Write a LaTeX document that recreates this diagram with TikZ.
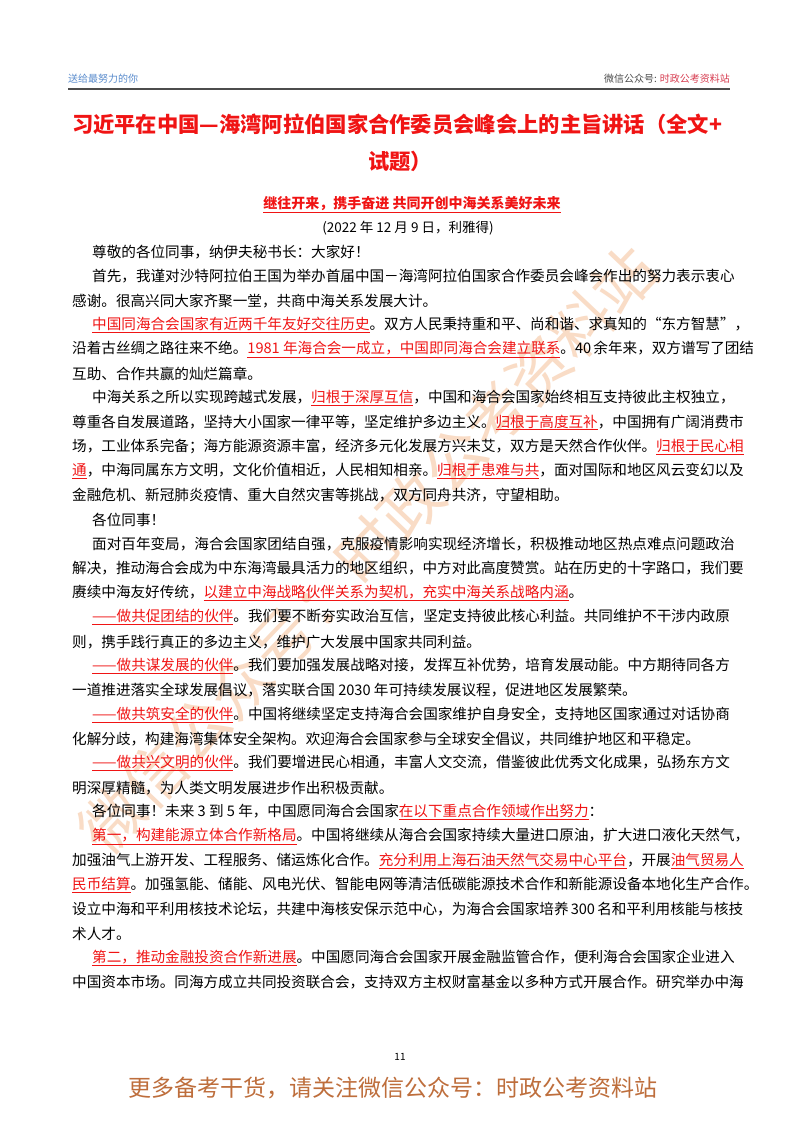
\documentclass[tikz,border=0pt]{standalone}
\usepackage{fontspec}
\setmainfont{Noto Sans CJK SC}
\XeTeXlinebreaklocale "zh"
\XeTeXlinebreakskip=1.5pt plus 4pt minus 1pt
\definecolor{wm}{RGB}{249,220,198}
\definecolor{foot}{RGB}{190,110,60}
\definecolor{hdrblue}{RGB}{90,140,205}
\definecolor{hdrred}{RGB}{215,60,80}
\definecolor{tred}{RGB}{240,20,20}
\newcommand\hl[1]{\textcolor{tred}{\underline{#1}}}
\newcommand\ypos[1]{\pgfmathsetmacro\yy{-(252+#1*24.35)}}
\newcommand\Fl[2]{\ypos{#1}\node[body] (l#1) at (72,\yy) {\hbox to 656pt{#2}};}
\newcommand\FI[2]{\ypos{#1}\node[body] (l#1) at (92,\yy) {\hbox to 636pt{#2}};}
\newcommand\Nl[2]{\ypos{#1}\node[body] (l#1) at (72,\yy) {#2};}
\newcommand\NI[2]{\ypos{#1}\node[body] (l#1) at (92,\yy) {#2};}
\begin{document}
\begin{tikzpicture}[x=1pt,y=1pt,
  body/.style={anchor=west,inner sep=0pt,font=\fontsize{14.6}{17}\selectfont}]
\useasboundingbox (0,0) rectangle (800,-1132);
\fill[white] (0,0) rectangle (800,-1132);
% watermark
\node[rotate=46.5,text=wm,font=\fontsize{62}{62}\selectfont] (wmk) at (368,-550) {微信公众号：时政公考资料站};
% header
\node[anchor=base west,inner sep=0,text=hdrblue,font=\fontsize{10}{12}\selectfont] (hl) at (68,-82) {送给最努力的你};
\node[anchor=base east,inner sep=0,font=\fontsize{10}{12}\selectfont] (hr) at (730,-82) {\textcolor{black!70}{微信公众号:} \textcolor{hdrred}{时政公考资料站}};
\draw[black!70,line width=1.5pt] (68,-89) -- (730,-89);
% title
\node[anchor=center,inner sep=0,text=tred,font=\fontsize{21.3}{26}\bfseries\selectfont] (t1) at (400,-124) {\hbox to 656pt{习近平在中国—海湾阿拉伯国家合作委员会峰会上的主旨讲话（全文+}};
\node[anchor=center,inner sep=0,text=tred,font=\fontsize{21.3}{26}\bfseries\selectfont] (t2) at (400,-161) {试题）};
\node[anchor=center,inner sep=0,font=\fontsize{14}{16}\bfseries\selectfont] (sub) at (412,-205) {\hl{继往开来，携手奋进 共同开创中海关系美好未来}};
\node[anchor=center,inner sep=0,font=\fontsize{13.5}{16}\selectfont] (date) at (408,-228) {(2022 年 12 月 9 日，利雅得)};
% body
\NI{0}{尊敬的各位同事，纳伊夫秘书长：大家好！}
\FI{1}{首先，我谨对沙特阿拉伯王国为举办首届中国－海湾阿拉伯国家合作委员会峰会作出的努力表示衷心}
\Nl{2}{感谢。很高兴同大家齐聚一堂，共商中海关系发展大计。}
\FI{3}{\hl{中国同海合会国家有近两千年友好交往历史}。双方人民秉持重和平、尚和谐、求真知的“东方智慧”，}
\Fl{4}{沿着古丝绸之路往来不绝。\hl{1981 年海合会一成立，中国即同海合会建立联系}。40 余年来，双方谱写了团结}
\Nl{5}{互助、合作共赢的灿烂篇章。}
\FI{6}{中海关系之所以实现跨越式发展，\hl{归根于深厚互信}，中国和海合会国家始终相互支持彼此主权独立，\hskip 0pt plus 1fil\relax}
\Fl{7}{尊重各自发展道路，坚持大小国家一律平等，坚定维护多边主义。\hl{归根于高度互补}，中国拥有广阔消费市}
\Fl{8}{场，工业体系完备；海方能源资源丰富，经济多元化发展方兴未艾，双方是天然合作伙伴。\hl{归根于民心相}}
\Fl{9}{\hl{通}，中海同属东方文明，文化价值相近，人民相知相亲。\hl{归根于患难与共}，面对国际和地区风云变幻以及}
\Nl{10}{金融危机、新冠肺炎疫情、重大自然灾害等挑战，双方同舟共济，守望相助。}
\NI{11}{各位同事！}
\FI{12}{面对百年变局，海合会国家团结自强，克服疫情影响实现经济增长，积极推动地区热点难点问题政治}
\Fl{13}{解决，推动海合会成为中东海湾最具活力的地区组织，中方对此高度赞赏。站在历史的十字路口，我们要}
\Nl{14}{赓续中海友好传统，\hl{以建立中海战略伙伴关系为契机，充实中海关系战略内涵}。}
\FI{15}{\hl{——做共促团结的伙伴}。我们要不断夯实政治互信，坚定支持彼此核心利益。共同维护不干涉内政原}
\Nl{16}{则，携手践行真正的多边主义，维护广大发展中国家共同利益。}
\FI{17}{\hl{——做共谋发展的伙伴}。我们要加强发展战略对接，发挥互补优势，培育发展动能。中方期待同各方}
\Nl{18}{一道推进落实全球发展倡议，落实联合国 2030 年可持续发展议程，促进地区发展繁荣。}
\FI{19}{\hl{——做共筑安全的伙伴}。中国将继续坚定支持海合会国家维护自身安全，支持地区国家通过对话协商}
\Nl{20}{化解分歧，构建海湾集体安全架构。欢迎海合会国家参与全球安全倡议，共同维护地区和平稳定。}
\FI{21}{\hl{——做共兴文明的伙伴}。我们要增进民心相通，丰富人文交流，借鉴彼此优秀文化成果，弘扬东方文}
\Nl{22}{明深厚精髓，为人类文明发展进步作出积极贡献。}
\NI{23}{各位同事！未来 3 到 5 年，中国愿同海合会国家\hl{在以下重点合作领域作出努力}：}
\FI{24}{\hl{第一，构建能源立体合作新格局}。中国将继续从海合会国家持续大量进口原油，扩大进口液化天然气，}
\Fl{25}{加强油气上游开发、工程服务、储运炼化合作。\hl{充分利用上海石油天然气交易中心平台}，开展\hl{油气贸易人}}
\Fl{26}{\hl{民币结算}。加强氢能、储能、风电光伏、智能电网等清洁低碳能源技术合作和新能源设备本地化生产合作。}
\Fl{27}{设立中海和平利用核技术论坛，共建中海核安保示范中心，为海合会国家培养 300 名和平利用核能与核技}
\Nl{28}{术人才。}
\FI{29}{\hl{第二，推动金融投资合作新进展}。中国愿同海合会国家开展金融监管合作，便利海合会国家企业进入}
\Fl{30}{中国资本市场。同海方成立共同投资联合会，支持双方主权财富基金以多种方式开展合作。研究举办中海}
% footer
\node[inner sep=0,font=\fontsize{10}{12}\selectfont] (pg) at (400,-1057) {11};
\node[inner sep=0,text=foot,font=\fontsize{23}{26}\selectfont] (ft) at (393,-1088) {更多备考干货，请关注微信公众号：时政公考资料站};
\end{tikzpicture}
\end{document}
